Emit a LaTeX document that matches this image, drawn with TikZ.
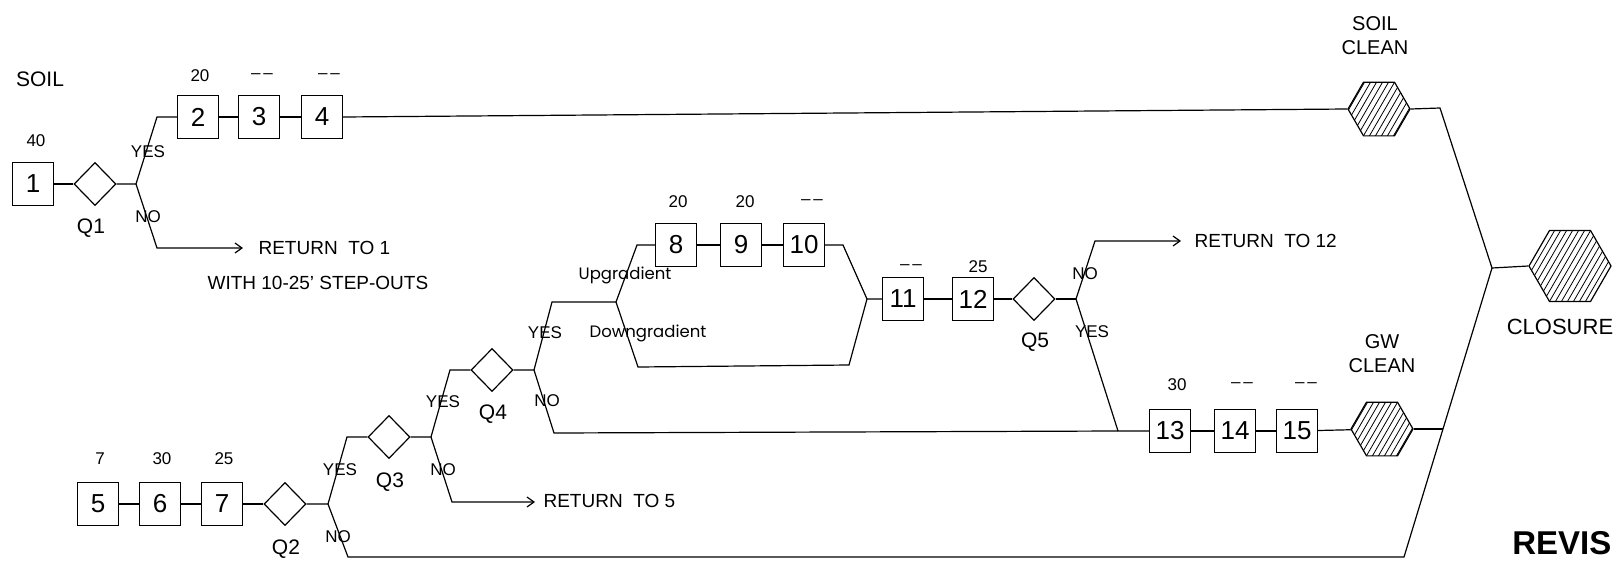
\documentclass[tikz,border=0pt]{standalone}
\usepackage{fontspec}
\setmainfont{Liberation Sans}
\newfontfamily\geofont{Poppins}
\usetikzlibrary{shapes.geometric,arrows.meta}
\begin{document}
\begin{tikzpicture}[x=1pt,y=-1pt,line width=1.2pt,
  box/.style={draw,rectangle,minimum width=41pt,minimum height=43pt,inner sep=0pt,font=\fontsize{26}{26}\selectfont},
  dec/.style={draw,diamond,minimum width=42pt,minimum height=43pt,inner sep=0pt},
  hex/.style={draw,regular polygon,regular polygon sides=6,minimum size=62pt,inner sep=0pt,
    path picture={\foreach \i in {-16,...,16}
      \draw[line width=0.8pt] ([xshift=\i*6pt-29pt,yshift=-50pt]path picture bounding box.center) -- ++(58,-100);}},
  num/.style={font=\fontsize{17}{17}\selectfont,inner sep=0pt},
  yn/.style={font=\fontsize{17}{17}\selectfont,inner sep=0pt},
  qlbl/.style={font=\fontsize{21}{21}\selectfont,inner sep=0pt},
  txt/.style={font=\fontsize{19}{19}\selectfont,inner sep=0pt},
  big/.style={font=\fontsize{20}{24}\selectfont,inner sep=0pt,align=center},
  geo/.style={font=\geofont\fontsize{16.5}{16.5}\selectfont,inner sep=0pt},
  arr/.style={-{Straight Barb[length=7pt,width=10pt]}}
]
\useasboundingbox (0,0) rectangle (1618,560);
\fill[white] (0,0) rectangle (1618,560);

% ---------- SOIL branch ----------
\node[txt,font=\fontsize{21}{21}\selectfont] (soil) at (40,79) {SOIL};
\node[box] (b1) at (33,184) {1};
\node[num] (l1) at (36,141) {40};
\node[dec] (q1) at (95,184) {};
\node[qlbl] (lq1) at (91,228) {Q1};
\coordinate (j1) at (136,184);
\coordinate (y1) at (157,117);
\coordinate (n1) at (157,248);
\coordinate (r1) at (243,248);
\node[yn] (yes1) at (148,152) {YES};
\node[yn] (no1) at (148,217) {NO};
\node[txt,anchor=west] (ret1) at (258,248) {RETURN \ TO 1};
\node[txt,anchor=west] (ret1b) at (207,283) {WITH 10-25' STEP-OUTS};

\node[box] (b2) at (198,117) {2};
\node[box] (b3) at (259,117) {3};
\node[box] (b4) at (322,117) {4};
\node[num] (l2) at (200,76) {20};
\node[num] (l3) at (262,76) {–\,–};
\node[num] (l4) at (329,76) {–\,–};

\node[hex] (sc) at (1379,109) {};
\node[big] (sctxt) at (1375,36) {SOIL\\CLEAN};
\coordinate (sce) at (1440,108);
\coordinate (jc) at (1492,268);

\draw (b1) -- (q1);
\draw (q1) -- (j1) -- (y1) -- (b2);
\draw[arr] (j1) -- (n1) -- (r1);
\draw (b2) -- (b3);
\draw (b3) -- (b4);
\draw (b4.east) -- (sc.west);
\draw (sc.east) -- (sce) -- (jc);

% ---------- CLOSURE ----------
\node[hex,minimum size=82pt] (cl) at (1570,266) {};
\node[txt,font=\fontsize{22}{22}\selectfont] (cltxt) at (1560,327) {CLOSURE};
\draw (jc) -- (cl.west);

% ---------- GW branch ----------
\node[box] (b5) at (98,504) {5};
\node[box] (b6) at (160,504) {6};
\node[box] (b7) at (222,504) {7};
\node[num] (l5) at (100,459) {7};
\node[num] (l6) at (162,459) {30};
\node[num] (l7) at (224,459) {25};
\node[dec] (q2) at (285,504) {};
\node[qlbl] (lq2) at (286,549) {Q2};
\coordinate (j2) at (328,504);
\coordinate (y2) at (347,437);
\coordinate (n2) at (348,557);
\node[yn] (yes2) at (340,470) {YES};
\node[yn] (no2) at (338,537) {NO};

\node[dec] (q3) at (389,437) {};
\node[qlbl] (lq3) at (390,482) {Q3};
\coordinate (j3) at (431,437);
\coordinate (y3) at (450,370);
\coordinate (n3) at (452,502);
\coordinate (r3) at (535,502);
\node[yn] (yes3) at (443,402) {YES};
\node[yn] (no3) at (443,470) {NO};
\node[txt,anchor=west] (ret5) at (543,501) {RETURN \ TO 5};

\node[dec] (q4) at (492,370) {};
\node[qlbl] (lq4) at (493,414) {Q4};
\coordinate (j4) at (534,370);
\coordinate (y4) at (552,302);
\coordinate (n4) at (554,433);
\node[yn] (yes4) at (545,333) {YES};
\node[yn] (no4) at (547,401) {NO};

\coordinate (sp) at (616,302);
\coordinate (up) at (637,245);
\coordinate (dn) at (638,367);
\coordinate (dn2) at (849,365);
\coordinate (t10) at (843,245);
\coordinate (jn) at (867,299);
\node[geo] (upg) at (625,275) {Upgradient};
\node[geo] (dng) at (648,333) {Downgradient};

\node[box] (b8) at (676,245) {8};
\node[box] (b9) at (741,245) {9};
\node[box] (b10) at (804,245) {10};
\node[num] (l8) at (678,202) {20};
\node[num] (l9) at (745,202) {20};
\node[num] (l10) at (812,202) {–\,–};

\node[box] (b11) at (903,299) {11};
\node[box] (b12) at (973,299) {12};
\node[num] (l11) at (911,267) {–\,–};
\node[num] (l12) at (978,267) {25};
\node[dec] (q5) at (1034,299) {};
\node[qlbl] (lq5) at (1035,342) {Q5};
\coordinate (j5) at (1076,299);
\coordinate (n5) at (1095,241);
\coordinate (r5) at (1181,241);
\coordinate (y5) at (1118,431);
\node[yn] (no5) at (1085,274) {NO};
\node[yn] (yes5) at (1092,332) {YES};
\node[txt,anchor=west] (ret12) at (1194,241) {RETURN \ TO 12};

\node[box] (b13) at (1170,431) {13};
\node[box] (b14) at (1235,431) {14};
\node[box] (b15) at (1297,431) {15};
\node[num] (l13) at (1177,385) {30};
\node[num] (l14) at (1242,385) {–\,–};
\node[num] (l15) at (1306,385) {–\,–};
\node[hex] (gw) at (1382,429) {};
\node[big] (gwtxt) at (1382,354) {GW\\CLEAN};
\coordinate (gwj) at (1443,429);
\coordinate (bot) at (1404,557);

% connectors
\draw (b5) -- (b6);
\draw (b6) -- (b7);
\draw (b7) -- (q2);
\draw (q2) -- (j2) -- (y2) -- (q3);
\draw (q3) -- (j3) -- (y3) -- (q4);
\draw[arr] (j3) -- (n3) -- (r3);
\draw (q4) -- (j4) -- (y4) -- (sp) -- (up) -- (b8);
\draw (sp) -- (dn) -- (dn2) -- (jn);
\draw (b8) -- (b9);
\draw (b9) -- (b10);
\draw (b10) -- (t10) -- (jn) -- (b11);
\draw (b11) -- (b12);
\draw (b12) -- (q5);
\draw (q5) -- (j5);
\draw[arr] (j5) -- (n5) -- (r5);
\draw (j5) -- (y5);
\draw (j4) -- (n4) -- (y5) -- (b13);
\draw (b13) -- (b14);
\draw (b14) -- (b15);
\draw (b15) -- (gw);
\draw (gw) -- (gwj);
\draw (j2) -- (n2) -- (bot) -- (jc);

% ---------- title at the lower right ----------
\node[anchor=south east,inner sep=0pt,font=\bfseries\fontsize{33}{33}\selectfont] (rev) at (1612,555) {REVIS};
\end{tikzpicture}
\end{document}
